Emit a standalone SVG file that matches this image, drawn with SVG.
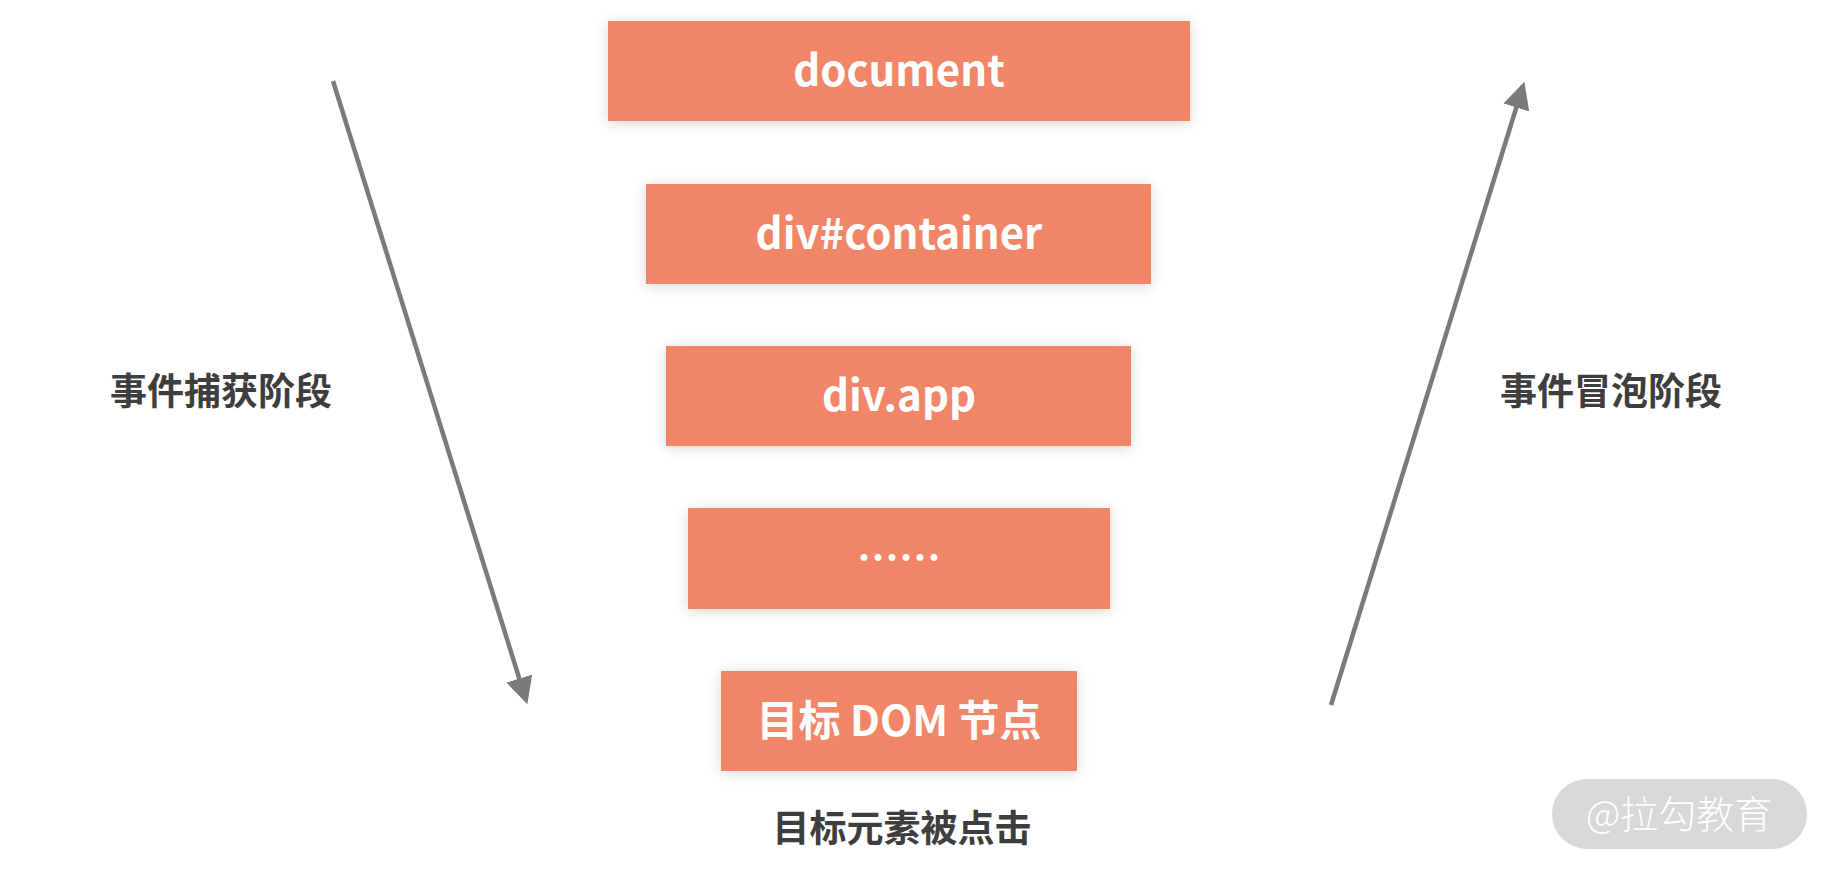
<svg xmlns="http://www.w3.org/2000/svg" width="1832" height="875" viewBox="0 0 1832 875">
  <defs>
    <filter id="glow" x="-10%" y="-40%" width="120%" height="180%">
      <feDropShadow dx="0" dy="2" stdDeviation="7" flood-color="#000" flood-opacity="0.16"/>
    </filter>
    <marker id="ah" markerWidth="6" markerHeight="6" refX="5" refY="3" orient="auto" markerUnits="strokeWidth">
      <path d="M0,0 L6,3 L0,6 Z" fill="#7a7a7a"/>
    </marker>
    <style>
      .box { fill: #F08567; filter: url(#glow); }
      .bt { font-family: "Noto Sans CJK SC", "Noto Sans", sans-serif; font-weight: bold; font-size: 42px; fill: #ffffff; text-anchor: middle; }
      .lbl { font-family: "Noto Sans CJK SC", "Noto Sans", sans-serif; font-weight: bold; font-size: 37px; fill: #3e3e3e; text-anchor: middle; }
      .conn { stroke: #7a7a7a; stroke-width: 4.5; fill: none; marker-end: url(#ah); }
    </style>
  </defs>
  <rect width="1832" height="875" fill="#ffffff"/>

  <g id="connectors">
    <line class="conn" x1="333" y1="81" x2="526" y2="700"/>
    <line class="conn" x1="1331" y1="705" x2="1523" y2="86"/>
  </g>

  <g id="node-document">
    <rect class="box" x="608" y="21" width="582" height="100"/>
    <text class="bt" x="899" y="86">document</text>
  </g>
  <g id="node-container">
    <rect class="box" x="646" y="184" width="505" height="100"/>
    <text class="bt" x="899" y="249">div#container</text>
  </g>
  <g id="node-app">
    <rect class="box" x="666" y="346" width="465" height="100"/>
    <text class="bt" x="899" y="411">div.app</text>
  </g>
  <g id="node-ellipsis">
    <rect class="box" x="688" y="508" width="422" height="101"/>
    <text class="bt" x="899" y="573">……</text>
  </g>
  <g id="node-target">
    <rect class="box" x="721" y="671" width="356" height="100"/>
    <text class="bt" x="899" y="736">目标 DOM 节点</text>
  </g>

  <g id="label-capture">
    <text class="lbl" x="221" y="405">事件捕获阶段</text>
  </g>
  <g id="label-bubble">
    <text class="lbl" x="1611" y="405">事件冒泡阶段</text>
  </g>
  <g id="label-clicked">
    <text class="lbl" x="902" y="842">目标元素被点击</text>
  </g>

  <g id="watermark">
    <rect x="1552" y="779" width="255" height="70" rx="35" fill="#d9d9d9"/>
    <text x="1679" y="828" font-family="'Noto Sans CJK SC', sans-serif" font-weight="300" font-size="38" fill="#ffffff" text-anchor="middle">@拉勾教育</text>
  </g>
</svg>
